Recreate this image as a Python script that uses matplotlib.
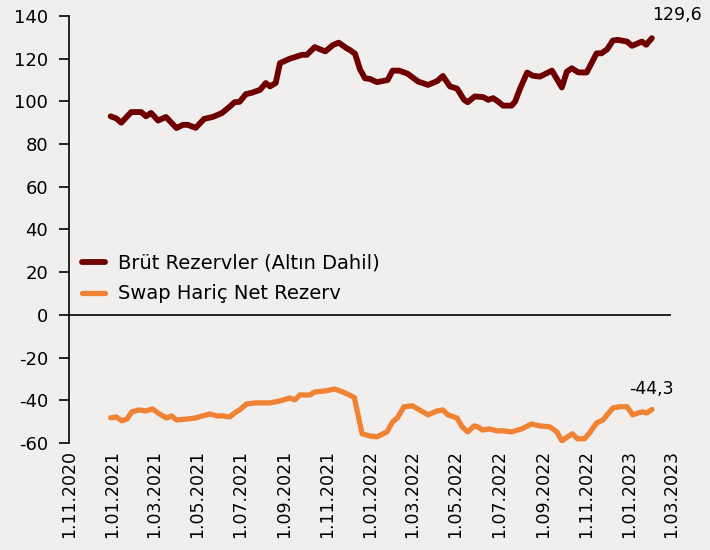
import matplotlib
matplotlib.use("Agg")
import matplotlib.pyplot as plt
import pandas as pd

brut_dates = ["2020-12-30","2021-01-07","2021-01-14","2021-01-28","2021-02-11","2021-02-18","2021-02-25",
    "2021-03-07","2021-03-18","2021-04-02","2021-04-11","2021-04-18","2021-04-29","2021-05-11","2021-05-23",
    "2021-06-05","2021-06-16","2021-06-23","2021-06-30","2021-07-09","2021-07-17","2021-07-29","2021-08-06",
    "2021-08-12","2021-08-20","2021-08-26","2021-09-09","2021-09-16","2021-09-26","2021-10-03","2021-10-14",
    "2021-10-29","2021-11-09","2021-11-17","2021-11-28","2021-12-03","2021-12-10","2021-12-17","2021-12-24",
    "2021-12-31","2022-01-10","2022-01-25","2022-02-01","2022-02-10","2022-02-22","2022-03-09","2022-03-23",
    "2022-04-05","2022-04-13","2022-04-23","2022-05-03","2022-05-13","2022-05-18","2022-05-28","2022-06-09",
    "2022-06-16","2022-06-23","2022-06-30","2022-07-07","2022-07-19","2022-07-24","2022-07-31","2022-08-10",
    "2022-08-18","2022-08-28","2022-09-14","2022-09-28","2022-10-05","2022-10-12","2022-10-21","2022-11-02",
    "2022-11-16","2022-11-23","2022-12-01","2022-12-09","2022-12-16","2022-12-29","2023-01-05","2023-01-12",
    "2023-01-19","2023-01-25","2023-02-02"]
brut_values = [93, 92, 90, 95, 95, 93, 94.6,
    91, 92.7, 87.5, 89, 89, 87.6, 91.8, 92.7,
    94.5, 97.5, 99.6, 99.8, 103.4, 104, 105.4, 108.6,
    107, 108.6, 117.9, 120, 120.7, 121.8, 121.8, 125.4,
    123.4, 126.4, 127.5, 124.9, 124, 122.3, 115, 110.8,
    110.5, 109, 110, 114.4, 114.4, 113, 109.3, 107.7,
    109.5, 111.9, 107, 106, 100.7, 99.6, 102.3, 102,
    100.7, 101.5, 99.9, 98, 98, 99.9, 106, 113.5,
    112, 111.6, 114.4, 106.5, 113.9, 115.5, 113.6, 113.5,
    122.5, 122.5, 124.4, 128.5, 128.8, 128, 126, 127,
    128, 126.5, 129.6]

swap_dates = ["2020-12-30","2021-01-07","2021-01-15","2021-01-22","2021-01-29","2021-02-08","2021-02-18",
    "2021-02-27","2021-03-07","2021-03-19","2021-03-26","2021-04-02","2021-04-16","2021-04-28","2021-05-09",
    "2021-05-19","2021-05-29","2021-06-06","2021-06-16","2021-06-23","2021-06-30","2021-07-10","2021-07-24",
    "2021-08-12","2021-08-26","2021-09-09","2021-09-16","2021-09-23","2021-10-07","2021-10-14","2021-10-29",
    "2021-11-11","2021-11-22","2021-12-02","2021-12-09","2021-12-20","2021-12-31","2022-01-10","2022-01-24",
    "2022-02-01","2022-02-08","2022-02-17","2022-03-01","2022-03-11","2022-03-23","2022-04-05","2022-04-13",
    "2022-04-20","2022-05-03","2022-05-10","2022-05-18","2022-05-27","2022-06-01","2022-06-08","2022-06-18",
    "2022-06-28","2022-07-07","2022-07-19","2022-08-02","2022-08-16","2022-08-28","2022-09-11","2022-09-21",
    "2022-09-28","2022-10-06","2022-10-13","2022-10-20","2022-10-30","2022-11-06","2022-11-16","2022-11-25",
    "2022-12-09","2022-12-19","2022-12-29","2023-01-06","2023-01-13","2023-01-20","2023-01-26","2023-02-02"]
swap_values = [-48.2, -47.8, -49.6, -48.8, -45.4, -44.5, -45,
    -44, -46, -48.3, -47.3, -49.2, -48.8, -48.3, -47.3,
    -46.4, -47.3, -47.3, -47.8, -45.9, -44.5, -41.7, -41.2,
    -41.2, -40.3, -38.9, -39.8, -37.5, -37.5, -36.1, -35.6,
    -34.7, -36, -37.5, -38.7, -55.7, -56.7, -57.1, -54.8,
    -50.1, -48.2, -43, -42.6, -44.5, -46.8, -45, -44.5,
    -46.8, -48.3, -52.3, -54.8, -52, -52.4, -53.9, -53.4,
    -54.3, -54.3, -54.8, -53.4, -51.1, -52, -52.4, -54.8,
    -59, -57.1, -55.7, -58, -58, -55.3, -50.6, -49.2,
    -43.6, -43, -43, -46.8, -46, -45.4, -45.9, -44.3]

series_labels = ["Brüt Rezervler (Altın Dahil)", "Swap Hariç Net Rezerv"]
tick_dates = pd.date_range("2020-11-01", "2023-03-01", freq="2MS")
yticks = list(range(-60, 141, 20))

bg = "#F1EFED"
plt.rcParams['font.family'] = ['DejaVu Sans']

fig = plt.figure(figsize=(7.1, 5.5), dpi=100, facecolor=bg)
ax = fig.add_axes([0.097, 0.1945, 0.848, 0.7765], facecolor=bg)

bd = pd.to_datetime(brut_dates)
sd = pd.to_datetime(swap_dates)
ax.plot(bd, brut_values, color="#6E0000", lw=4.2, solid_capstyle="round", solid_joinstyle="round",
        label=series_labels[0], zorder=3)
ax.plot(sd, swap_values, color="#F08234", lw=3.8, solid_capstyle="round", solid_joinstyle="round",
        label=series_labels[1], zorder=3)

ax.axhline(0, color="black", lw=1.2, zorder=2)
ax.set_xlim(pd.Timestamp("2020-11-01"), pd.Timestamp("2023-03-01"))
ax.set_ylim(-60, 140)
ax.set_yticks(yticks)
ax.set_yticklabels([str(v) for v in yticks])
ax.set_xticks(tick_dates)
ax.set_xticklabels([d.strftime("1.%m.%Y") for d in tick_dates], rotation=90)

for s in ["top", "right", "bottom"]:
    ax.spines[s].set_visible(False)
ax.spines["left"].set_color("black")
ax.spines["left"].set_linewidth(1.2)
ax.tick_params(axis="y", direction="out", length=7, width=1.2, labelsize=13, pad=8, colors="black")
ax.tick_params(axis="x", length=0, labelsize=12.5, pad=5, colors="black")

ax.annotate(f"{brut_values[-1]:.1f}".replace(".", ","), xy=(bd[-1], brut_values[-1]),
            xytext=(18, 17), textcoords="offset points", ha="center", va="center", fontsize=12.5)
ax.annotate(f"{swap_values[-1]:.1f}".replace(".", ","), xy=(sd[-1], swap_values[-1]),
            xytext=(0, 15), textcoords="offset points", ha="center", va="center", fontsize=12.5)

leg = ax.legend(loc="center left", bbox_to_anchor=(0.0216, 0.385), frameon=False, fontsize=14,
                handlelength=1.2, handletextpad=0.65, labelspacing=0.6, borderaxespad=0, borderpad=0)

fig.savefig("out.png", dpi=100, facecolor=bg)
